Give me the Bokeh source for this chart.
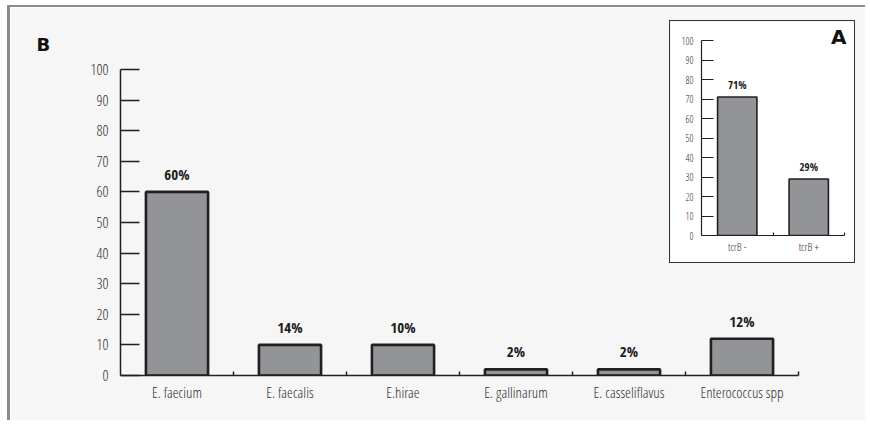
from bokeh.plotting import figure
from bokeh.models import Range1d, FixedTicker, ColumnDataSource
from bokeh.layouts import column
from bokeh.core.properties import value
from bokeh.embed import file_html
from bokeh.resources import INLINE

# ---- data ----
species = ["E. faecium", "E. faecalis", "E.hirae", "E. gallinarum",
           "E. casseliflavus", "Enterococcus spp"]
bar_values = [60, 10, 10, 2, 2, 12]
bar_labels = ["60%", "14%", "10%", "2%", "2%", "12%"]
y_ticks = [0, 10, 20, 30, 40, 50, 60, 70, 80, 90, 100]

inset_groups = ["tcrB -", "tcrB +"]
inset_values = [71, 29]
inset_labels = ["71%", "29%"]

LIGHT = "Open Sans Condensed Light"
BOLD = "Open Sans Condensed"
BAR_FILL = "#929497"
BAR_LINE = "#231f20"
AXIS = "#231f20"
TXT = "#2e2e2e"


def style_axes(fig, cats, tick_in, ylab_size, xlab_size, standoff_y, standoff_x, xtick_in, lw):
    n = len(cats)
    centers = [i + 0.5 for i in range(n)]
    fig.xaxis.ticker = FixedTicker(ticks=centers, minor_ticks=[i + 1 for i in range(n)])
    fig.xaxis.major_label_overrides = {c: name for c, name in zip(centers, cats)}
    fig.xaxis.major_tick_line_color = None
    fig.xaxis.major_tick_in = 0
    fig.xaxis.major_tick_out = 0
    fig.xaxis.minor_tick_in = xtick_in
    fig.xaxis.minor_tick_out = 0
    fig.xaxis.minor_tick_line_color = AXIS
    fig.xaxis.minor_tick_line_width = lw
    fig.xaxis.major_label_standoff = standoff_x
    fig.xaxis.major_label_text_font_size = xlab_size
    fig.yaxis.ticker = FixedTicker(ticks=y_ticks)
    fig.yaxis.minor_tick_line_color = None
    fig.yaxis.major_tick_in = tick_in
    fig.yaxis.major_tick_out = 0
    fig.yaxis.major_tick_line_color = AXIS
    fig.yaxis.major_tick_line_width = lw
    fig.yaxis.major_label_standoff = standoff_y
    fig.yaxis.major_label_text_font_size = ylab_size
    for ax in (fig.xaxis, fig.yaxis):
        ax.axis_line_color = AXIS
        ax.axis_line_width = lw
        ax.major_label_text_font = LIGHT
        ax.major_label_text_color = TXT
    fig.xgrid.visible = False
    fig.ygrid.visible = False


# ---- main chart (B) ----
p = figure(width=858, height=415, x_range=Range1d(0, len(species)), y_range=Range1d(0, 100),
           output_backend="svg", toolbar_location=None,
           min_border_left=110, min_border_right=70, min_border_top=62, min_border_bottom=47,
           background_fill_color="#f6f6f6", border_fill_color="#f6f6f6",
           outline_line_color=None, frame_align=False,
           styles={"border-left": "3px solid #8c8c8c", "border-top": "2px solid #8c8c8c"},
           margin=(5, 0, 0, 7))
src = ColumnDataSource(dict(x=[i + 0.5 for i in range(len(species))], top=bar_values,
                            lab=bar_labels))
p.vbar(x="x", top="top", bottom=0, width=0.55, source=src,
       fill_color=BAR_FILL, line_color=BAR_LINE, line_width=2.6)
p.text(x="x", y="top", text="lab", source=src, text_align="center", text_baseline="bottom",
       y_offset=-8, text_font=value(BOLD), text_font_style="normal",
       text_font_size="15px", text_color="#1a1a1a")
style_axes(p, species, 19, "15px", "15px", 12, 6, 4, 1.5)
p.title.text = "B"
p.title.align = "left"
p.title.offset = -84
p.title.standoff = 29
p.title.text_font = "DejaVu Sans"
p.title.text_font_style = "bold"
p.title.text_font_size = "18px"
p.title.text_color = "#111111"

# ---- inset chart (A) ----
q = figure(width=186, height=243, x_range=Range1d(0, len(inset_groups)), y_range=Range1d(0, 100),
           output_backend="svg", toolbar_location=None,
           min_border_left=31, min_border_right=12, min_border_top=19, min_border_bottom=29,
           background_fill_color="white", border_fill_color="white",
           outline_line_color=None, frame_align=False,
           styles={"border": "1px solid #333333"},
           margin=(-400, 0, 0, 669))
src2 = ColumnDataSource(dict(x=[i + 0.5 for i in range(len(inset_groups))], top=inset_values,
                             lab=inset_labels))
q.vbar(x="x", top="top", bottom=0, width=0.55, source=src2,
       fill_color=BAR_FILL, line_color=BAR_LINE, line_width=1.6)
q.text(x="x", y="top", text="lab", source=src2, text_align="center", text_baseline="bottom",
       y_offset=-5, text_font=value(BOLD), text_font_style="normal",
       text_font_size="11px", text_color="#1a1a1a")
style_axes(q, inset_groups, 12, "10px", "11px", 8, 3, 3, 1.2)
q.title.text = "A"
q.title.align = "right"
q.title.offset = -2
q.title.standoff = -17
q.title.text_font = "DejaVu Sans"
q.title.text_font_style = "bold"
q.title.text_font_size = "20px"
q.title.text_color = "#111111"

layout = column(p, q)
open("out.html", "w").write(file_html(layout, INLINE))
